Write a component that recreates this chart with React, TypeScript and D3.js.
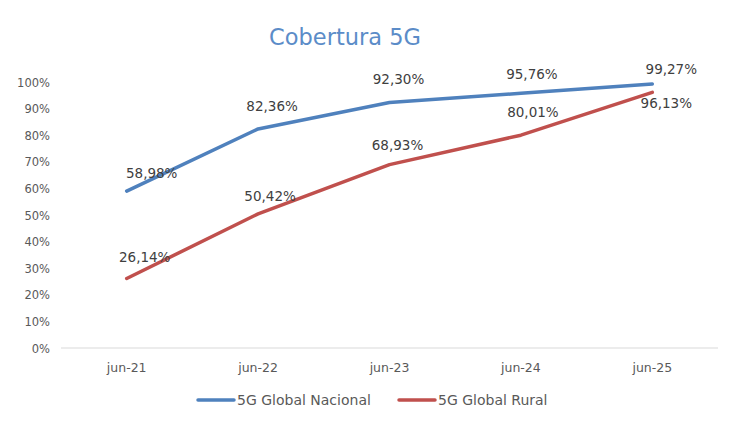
import React from "react";
import * as d3 from "d3";

const categories = ["jun-21", "jun-22", "jun-23", "jun-24", "jun-25"];
const nacional = [58.98, 82.36, 92.3, 95.76, 99.27];
const rural = [26.14, 50.42, 68.93, 80.01, 96.13];
const yTicks = [0, 10, 20, 30, 40, 50, 60, 70, 80, 90, 100];
const seriesNames = ["5G Global Nacional", "5G Global Rural"];
const colors = ["#4F81BD", "#C0504D"];

// label offsets relative to point (dx, dy of text center)
const nacLabelOff = [[25, -18], [14, -23], [9, -23], [11, -19], [19, -15]];
const rurLabelOff = [[18, -21], [12, -18], [8, -20], [12, -23], [14, 11]];

const fmt = (v: number) => v.toFixed(2).replace(".", ",") + "%";

export default function App() {
  const W = 741, H = 427;
  const x = d3.scaleBand().domain(categories).range([61, 718]);
  const y = d3.scaleLinear().domain([0, 100]).range([348, 82]);
  const cx = (c: string) => (x(c) as number) + x.bandwidth() / 2;
  const line = d3.line<number>().x((_, i) => cx(categories[i])).y((d) => y(d));
  const font = "'DejaVu Sans', 'Open Sans', sans-serif";
  const series = [nacional, rural];
  const offs = [nacLabelOff, rurLabelOff];
  return (
    <svg width={W} height={H} style={{ position: "absolute", left: 0, top: 0, background: "#fff" }} fontFamily={font}>
      <text x={345} y={45} textAnchor="middle" fontSize={22.5} fill="#5B8CC8">Cobertura 5G</text>
      {yTicks.map((t) => (
        <text key={t} x={50} y={y(t) + 4.5} textAnchor="end" fontSize={11.5} fill="#595959">{t}%</text>
      ))}
      <line x1={61} x2={718} y1={y(0)} y2={y(0)} stroke="#D9D9D9" strokeWidth={1} />
      {categories.map((c) => (
        <text key={c} x={cx(c)} y={372} textAnchor="middle" fontSize={12.5} fill="#595959">{c}</text>
      ))}
      {series.map((s, si) => (
        <path key={si} d={line(s) || ""} fill="none" stroke={colors[si]} strokeWidth={3.5} strokeLinecap="round" strokeLinejoin="round" />
      ))}
      {series.map((s, si) =>
        s.map((v, i) => (
          <text key={si + "-" + i} x={cx(categories[i]) + offs[si][i][0]} y={y(v) + offs[si][i][1] + 5} textAnchor="middle" fontSize={13.5} fill="#404040">{fmt(v)}</text>
        ))
      )}
      {seriesNames.map((n, i) => {
        const lx = i === 0 ? 198 : 399;
        return (
          <g key={n}>
            <line x1={lx} x2={lx + 36} y1={400} y2={400} stroke={colors[i]} strokeWidth={3.5} strokeLinecap="round" />
            <text x={lx + 39} y={404.5} fontSize={14} fill="#595959">{n}</text>
          </g>
        );
      })}
    </svg>
  );
}
